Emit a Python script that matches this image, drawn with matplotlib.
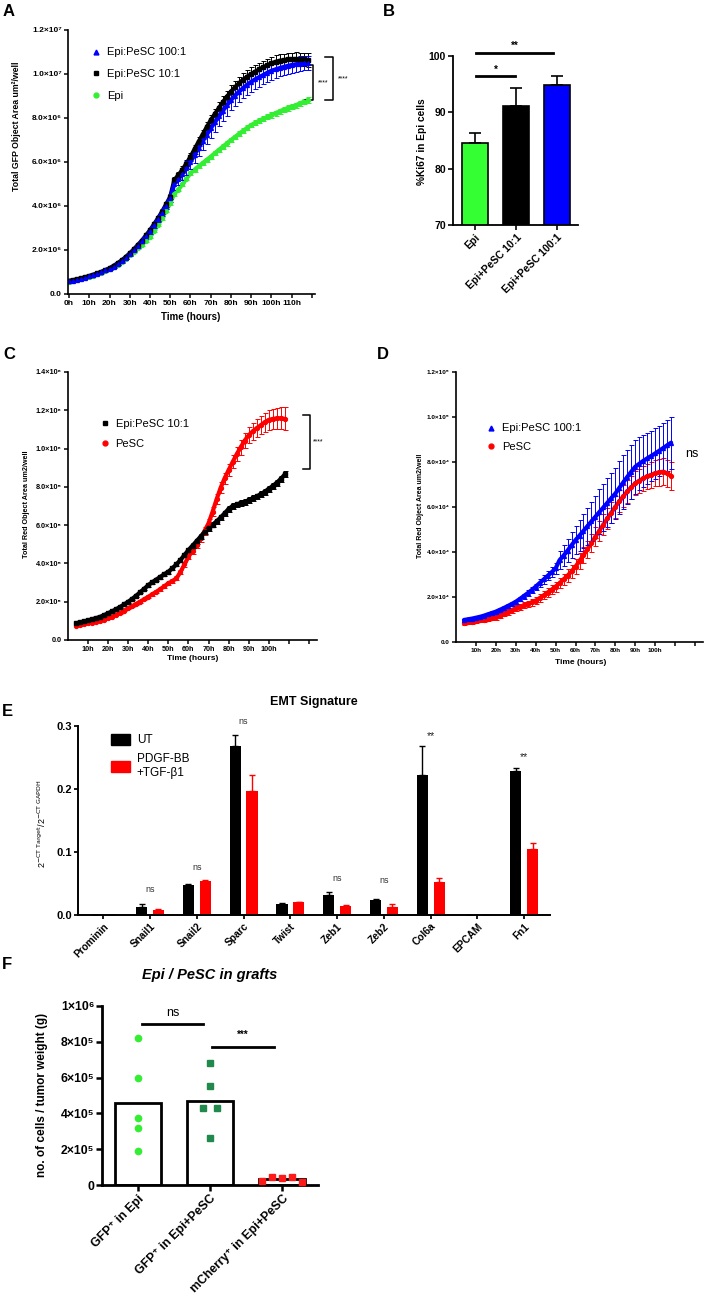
import numpy as np
import matplotlib
matplotlib.use('Agg')
import matplotlib.pyplot as plt
from matplotlib.lines import Line2D
from matplotlib.patches import Patch

plt.rcParams['font.family'] = ['Liberation Sans', 'DejaVu Sans']
plt.rcParams['mathtext.default'] = 'regular'

W, H = 709, 1308

# ---- A: GFP area (x1e6), every 2 h
hours_A = np.arange(0, 120, 2)
gfp_100 = [0.58, 0.61, 0.65, 0.69, 0.74, 0.80, 0.86, 0.92, 0.99, 1.07, 1.15,
           1.25, 1.37, 1.50, 1.65, 1.82, 2.00, 2.19, 2.40, 2.62, 2.86,
           3.12, 3.40, 3.70, 4.02, 4.36, 5.00, 5.22, 5.45, 5.72, 6.00,
           6.32, 6.63, 6.94, 7.24, 7.53, 7.80, 8.07, 8.33, 8.58, 8.82,
           9.02, 9.20, 9.36, 9.51, 9.65, 9.76, 9.86, 9.96, 10.06, 10.15,
           10.21, 10.27, 10.32, 10.37, 10.41, 10.44, 10.47, 10.49, 10.50]
gfp_100_err = [0.03, 0.03, 0.03, 0.03, 0.03, 0.04, 0.04, 0.04, 0.05, 0.05, 0.05,
               0.06, 0.06, 0.07, 0.07, 0.08, 0.08, 0.09, 0.10, 0.10, 0.11,
               0.12, 0.13, 0.14, 0.15, 0.16, 0.25, 0.27, 0.29, 0.31, 0.33,
               0.35, 0.37, 0.39, 0.41, 0.43, 0.44, 0.45, 0.46, 0.47, 0.47,
               0.47, 0.47, 0.46, 0.46, 0.45, 0.44, 0.43, 0.42, 0.41, 0.40,
               0.39, 0.38, 0.37, 0.36, 0.35, 0.34, 0.33, 0.32, 0.32]
gfp_10 = [0.60, 0.63, 0.67, 0.71, 0.76, 0.82, 0.88, 0.94, 1.01, 1.09, 1.17,
          1.28, 1.40, 1.53, 1.68, 1.85, 2.03, 2.23, 2.43, 2.66, 2.90,
          3.17, 3.45, 3.75, 4.08, 4.42, 5.18, 5.40, 5.65, 5.93, 6.24,
          6.58, 6.92, 7.25, 7.58, 7.90, 8.18, 8.45, 8.72, 8.97, 9.20,
          9.40, 9.58, 9.74, 9.88, 10.00, 10.11, 10.21, 10.31, 10.40, 10.49,
          10.55, 10.60, 10.63, 10.66, 10.67, 10.68, 10.67, 10.66, 10.64]
gfp_10_err = [0.03, 0.03, 0.03, 0.03, 0.03, 0.04, 0.04, 0.04, 0.04, 0.05, 0.05,
              0.05, 0.06, 0.06, 0.07, 0.07, 0.08, 0.08, 0.09, 0.09, 0.10,
              0.10, 0.11, 0.11, 0.12, 0.12, 0.15, 0.16, 0.17, 0.18, 0.19,
              0.20, 0.21, 0.22, 0.23, 0.24, 0.25, 0.26, 0.27, 0.28, 0.28,
              0.29, 0.29, 0.30, 0.30, 0.30, 0.30, 0.30, 0.30, 0.30, 0.30,
              0.30, 0.30, 0.30, 0.30, 0.30, 0.30, 0.30, 0.30, 0.30]
gfp_epi = [0.56, 0.59, 0.62, 0.66, 0.71, 0.78, 0.83, 0.89, 0.96, 1.04, 1.12,
           1.22, 1.33, 1.45, 1.61, 1.79, 1.93, 2.09, 2.25, 2.42, 2.60,
           2.86, 3.14, 3.45, 3.78, 4.12, 4.55, 4.75, 4.98, 5.24, 5.49,
           5.65, 5.80, 5.95, 6.10, 6.24, 6.40, 6.55, 6.70, 6.85, 7.00,
           7.14, 7.28, 7.42, 7.55, 7.68, 7.78, 7.88, 7.97, 8.05, 8.14,
           8.22, 8.30, 8.38, 8.45, 8.52, 8.58, 8.66, 8.74, 8.82]
gfp_epi_err = [0.02, 0.02, 0.02, 0.02, 0.02, 0.02, 0.03, 0.03, 0.03, 0.03, 0.03,
               0.04, 0.04, 0.04, 0.04, 0.05, 0.05, 0.05, 0.05, 0.06, 0.06,
               0.06, 0.06, 0.07, 0.07, 0.07, 0.08, 0.08, 0.08, 0.08, 0.09,
               0.09, 0.09, 0.09, 0.09, 0.10, 0.10, 0.10, 0.10, 0.10, 0.10,
               0.11, 0.11, 0.11, 0.11, 0.11, 0.11, 0.11, 0.11, 0.11, 0.12,
               0.12, 0.12, 0.12, 0.12, 0.12, 0.12, 0.12, 0.12, 0.12]

# ---- B: %Ki67
ki67_groups = ['Epi', 'Epi+PeSC 10:1', 'Epi+PeSC 100:1']
ki67_mean = [84.6, 91.2, 94.9]
ki67_err = [1.7, 3.2, 1.6]
ki67_colors = ['#33ff33', 'black', '#0000ff']

# ---- C and D: red area, every 2 h from 4 h to 108 h
hours_CD = np.arange(4, 110, 2)
red_10 = [0.87, 0.92, 0.97, 1.02, 1.08, 1.14, 1.21, 1.30, 1.40,
          1.50, 1.61, 1.73, 1.86, 2.00, 2.15, 2.32, 2.50, 2.68, 2.87,
          3.02, 3.16, 3.30, 3.44, 3.57, 3.75, 3.95, 4.18, 4.44, 4.70,
          4.93, 5.16, 5.40, 5.64, 5.85, 6.02, 6.20, 6.40, 6.62, 6.85,
          7.00, 7.08, 7.15, 7.22, 7.30, 7.40, 7.50, 7.62, 7.75, 7.90,
          8.05, 8.22, 8.42, 8.65]
red_10_err = [0.03, 0.03, 0.03, 0.03, 0.04, 0.04, 0.04, 0.04, 0.05,
              0.05, 0.05, 0.06, 0.06, 0.06, 0.07, 0.07, 0.07, 0.08, 0.08,
              0.08, 0.09, 0.09, 0.09, 0.10, 0.10, 0.10, 0.11, 0.11, 0.11,
              0.12, 0.12, 0.12, 0.12, 0.13, 0.13, 0.13, 0.13, 0.14, 0.14,
              0.14, 0.14, 0.14, 0.15, 0.15, 0.15, 0.15, 0.15, 0.15, 0.16,
              0.16, 0.16, 0.16, 0.16]
red_pesc_c = [0.75, 0.79, 0.83, 0.87, 0.91, 0.96, 1.01, 1.07, 1.13,
              1.22, 1.32, 1.42, 1.54, 1.66, 1.77, 1.89, 2.01, 2.13, 2.26,
              2.39, 2.52, 2.66, 2.81, 2.96, 3.08, 3.22, 3.55, 3.95, 4.35,
              4.65, 4.97, 5.32, 5.70, 6.10, 6.70, 7.35, 7.95, 8.45, 8.88,
              9.30, 9.70, 10.07, 10.42, 10.70, 10.90, 11.07, 11.22, 11.38, 11.50,
              11.55, 11.58, 11.58, 11.55]
red_pesc_c_err = [0.02, 0.02, 0.02, 0.02, 0.03, 0.03, 0.03, 0.03, 0.03,
                  0.04, 0.04, 0.04, 0.05, 0.05, 0.05, 0.06, 0.06, 0.06, 0.07,
                  0.07, 0.08, 0.08, 0.09, 0.09, 0.10, 0.11, 0.12, 0.13, 0.14,
                  0.15, 0.16, 0.18, 0.20, 0.22, 0.24, 0.26, 0.28, 0.30, 0.32,
                  0.34, 0.36, 0.38, 0.40, 0.42, 0.44, 0.46, 0.48, 0.50, 0.52,
                  0.54, 0.56, 0.58, 0.60]
red_100 = [0.98, 1.01, 1.04, 1.08, 1.12, 1.17, 1.23, 1.29, 1.35,
           1.43, 1.51, 1.60, 1.69, 1.79, 1.91, 2.04, 2.17, 2.31, 2.46,
           2.62, 2.78, 2.94, 3.10, 3.27, 3.64, 3.84, 4.06, 4.30, 4.53,
           4.73, 4.94, 5.15, 5.36, 5.57, 5.78, 5.98, 6.19, 6.40, 6.60,
           6.85, 7.10, 7.34, 7.57, 7.79, 7.92, 8.05, 8.16, 8.27, 8.38,
           8.50, 8.62, 8.74, 8.86]
red_100_err = [0.05, 0.05, 0.05, 0.05, 0.06, 0.06, 0.06, 0.07, 0.07,
               0.07, 0.08, 0.08, 0.09, 0.09, 0.10, 0.11, 0.12, 0.13, 0.14,
               0.16, 0.18, 0.20, 0.23, 0.26, 0.40, 0.46, 0.52, 0.58, 0.64,
               0.70, 0.76, 0.82, 0.88, 0.94, 1.00, 1.04, 1.08, 1.12, 1.15,
               1.18, 1.20, 1.20, 1.20, 1.20, 1.18, 1.16, 1.14, 1.12, 1.12,
               1.12, 1.13, 1.14, 1.15]
red_pesc_d = [0.86, 0.88, 0.90, 0.93, 0.96, 0.99, 1.02, 1.06, 1.10,
              1.17, 1.25, 1.33, 1.41, 1.50, 1.56, 1.63, 1.69, 1.76, 1.84,
              1.95, 2.07, 2.20, 2.33, 2.46, 2.62, 2.78, 2.95, 3.14, 3.35,
              3.60, 3.86, 4.13, 4.40, 4.68, 4.95, 5.22, 5.49, 5.75, 6.01,
              6.25, 6.48, 6.69, 6.88, 7.05, 7.17, 7.27, 7.36, 7.43, 7.50,
              7.54, 7.57, 7.50, 7.37]
red_pesc_d_err = [0.10, 0.10, 0.09, 0.09, 0.09, 0.09, 0.10, 0.10, 0.10,
                  0.11, 0.11, 0.12, 0.12, 0.13, 0.13, 0.14, 0.14, 0.15, 0.16,
                  0.17, 0.18, 0.19, 0.20, 0.22, 0.24, 0.26, 0.28, 0.30, 0.32,
                  0.34, 0.36, 0.38, 0.40, 0.42, 0.44, 0.45, 0.46, 0.47, 0.48,
                  0.49, 0.50, 0.51, 0.52, 0.53, 0.54, 0.55, 0.56, 0.57, 0.58,
                  0.59, 0.60, 0.61, 0.62]

# ---- E: EMT signature
genes = ['Prominin', 'Snail1', 'Snail2', 'Sparc', 'Twist', 'Zeb1', 'Zeb2',
         'Col6a', 'EPCAM', 'Fn1']
ut_mean = [0.0, 0.012, 0.047, 0.268, 0.017, 0.031, 0.024, 0.223, 0.0, 0.229]
ut_err = [0.0, 0.005, 0.003, 0.018, 0.002, 0.006, 0.002, 0.045, 0.0, 0.005]
tr_mean = [0.0, 0.008, 0.054, 0.197, 0.020, 0.015, 0.013, 0.052, 0.0, 0.104]
tr_err = [0.0, 0.001, 0.001, 0.025, 0.0, 0.001, 0.004, 0.007, 0.0, 0.010]
emt_sig = [('ns', 1, 0.040), ('ns', 2, 0.076), ('ns', 3, 0.307), ('ns', 5, 0.058),
           ('ns', 6, 0.055), ('**', 7, 0.284), ('**', 9, 0.251)]

# ---- F: cells per tumour weight (x1e5)
graft_groups = ['GFP⁺ in Epi', 'GFP⁺ in Epi+PeSC', 'mCherry⁺ in Epi+PeSC']
graft_vals = [[8.23, 5.96, 3.74, 3.18, 1.90],
              [6.82, 5.55, 4.32, 4.28, 2.63],
              [0.20, 0.46, 0.40, 0.43, 0.17]]
graft_jitter = [[0, 0, 0, 0, 0],
                [0, 0, -0.1, 0.1, 0],
                [-0.28, -0.14, 0, 0.14, 0.28]]
graft_styles = [('o', '#33ee33'), ('s', '#1f8a4c'), ('s', '#ff1a1a')]


fig = plt.figure(figsize=(W / 100, H / 100), dpi=100)


def box(x0, y0, x1, y1):
    return [x0 / W, 1 - y1 / H, (x1 - x0) / W, (y1 - y0) / H]


def ftxt(x, y, s, **kw):
    kw.setdefault('ha', 'center')
    kw.setdefault('va', 'center')
    fig.text(x / W, 1 - y / H, s, **kw)


def style(ax, lw=1.2, fs=6, length=3):
    for s in ['top', 'right']:
        ax.spines[s].set_visible(False)
    for s in ['left', 'bottom']:
        ax.spines[s].set_linewidth(lw)
    ax.tick_params(width=lw * 0.9, length=length, labelsize=fs, pad=1.5)
    for t in ax.get_xticklabels() + ax.get_yticklabels():
        t.set_fontweight('bold')


def eb(ax, x, y, e, marker, color, ms=2.8):
    # dense time course: thick trace + markers + capped error bars
    ax.plot(x, y, '-', color=color, lw=3, solid_capstyle='round')
    ax.errorbar(x, y, yerr=e, fmt=marker, ms=ms, color=color, mec=color,
                ecolor=color, elinewidth=0.7, capsize=1.8, capthick=0.7)


# ---------- A
axA = fig.add_axes(box(68, 30, 315, 294))
eb(axA, hours_A, gfp_epi, gfp_epi_err, 'o', '#33ee33')
eb(axA, hours_A, gfp_10, gfp_10_err, 's', 'black')
eb(axA, hours_A, gfp_100, gfp_100_err, '^', '#0000ff')
axA.set_xlim(-0.5, 121.5)
axA.set_ylim(0, 12)
axA.set_xticks(range(0, 121, 10))
axA.set_xticklabels([f'{h}h' for h in range(0, 111, 10)] + [''])
axA.set_yticks(range(0, 13, 2))
axA.set_yticklabels(['0.0', '2.0×10⁶', '4.0×10⁶', '6.0×10⁶', '8.0×10⁶',
                     '1.0×10⁷', '1.2×10⁷'])
style(axA)
axA.legend(handles=[Line2D([], [], ls='', marker='^', color='#0000ff', ms=3.5),
                    Line2D([], [], ls='', marker='s', color='black', ms=3.5),
                    Line2D([], [], ls='', marker='o', color='#33ee33', ms=3.5)],
           labels=['Epi:PeSC 100:1', 'Epi:PeSC 10:1', 'Epi'],
           loc='upper left', bbox_to_anchor=(0.067, 0.955), frameon=False,
           borderpad=0, handlelength=1, handletextpad=0.5, labelspacing=1.05,
           fontsize=8)
for x0, x1, ytop, xt in [(116.7, 120.6, 10.4, 125.5), (126.5, 130.5, 10.77, 135.5)]:
    axA.plot([x0, x1, x1, x0], [ytop, ytop, 8.8, 8.8], color='black', lw=1.1,
             clip_on=False)
    axA.text(xt, (ytop + 8.8) / 2, '****', fontsize=5, ha='center', va='center')
ftxt(17, 126, 'Total GFP Object Area um²/well', rotation=90, fontsize=6.3,
     fontweight='bold')
ftxt(191, 317, 'Time (hours)', fontsize=7, fontweight='bold')

# ---------- B
axB = fig.add_axes(box(453, 56, 578, 225))
xb = np.arange(len(ki67_groups))
axB.bar(xb, ki67_mean, width=0.63, color=ki67_colors, edgecolor='black',
        linewidth=1.2, yerr=[np.zeros(3), ki67_err], capsize=4,
        error_kw=dict(elinewidth=1.2, capthick=1.2))
axB.set_xlim(-0.54, 2.51)
axB.set_ylim(70, 100)
axB.set_yticks([70, 80, 90, 100])
axB.set_xticks(xb)
axB.set_xticklabels(ki67_groups, rotation=45, ha='right', rotation_mode='anchor')
style(axB, lw=1.3, fs=7.5, length=3.5)
axB.plot([0.03, 0.97], [96.5, 96.5], color='black', lw=2, clip_on=False)
axB.text(0.5, 97.6, '*', ha='center', va='center', fontsize=7, fontweight='bold')
axB.plot([0.03, 1.9], [100.6, 100.6], color='black', lw=2, clip_on=False)
axB.text(0.96, 101.8, '**', ha='center', va='center', fontsize=7, fontweight='bold')
ftxt(422, 142, '%Ki67 in Epi cells', rotation=90, fontsize=7.3, fontweight='bold')

# ---------- C
axC = fig.add_axes(box(68, 372, 317, 640))
eb(axC, hours_CD, red_pesc_c, red_pesc_c_err, 'o', '#ff0000')
eb(axC, hours_CD, red_10, red_10_err, 's', 'black')
axC.set_xlim(0, 124)
axC.set_ylim(0, 14)
axC.set_xticks(range(10, 121, 10))
axC.set_xticklabels([f'{h}h' for h in range(10, 101, 10)] + ['', ''])
axC.set_yticks(range(0, 15, 2))
axC.set_yticklabels(['0.0', '2.0×10⁵', '4.0×10⁵', '6.0×10⁵', '8.0×10⁵',
                     '1.0×10⁶', '1.2×10⁶', '1.4×10⁶'])
style(axC, fs=5.2)
axC.legend(handles=[Line2D([], [], ls='', marker='s', color='black', ms=3.5),
                    Line2D([], [], ls='', marker='o', color='#ff0000', ms=3.5)],
           labels=['Epi:PeSC 10:1', 'PeSC'],
           loc='upper left', bbox_to_anchor=(0.102, 0.847), frameon=False,
           borderpad=0, handlelength=1, handletextpad=0.5, labelspacing=0.9,
           fontsize=8)
axC.plot([117, 120.5, 120.5, 117], [11.75, 11.75, 8.93, 8.93], color='black',
         lw=1.1, clip_on=False)
axC.text(124.8, 10.34, '****', fontsize=5, ha='center', va='center')
ftxt(27, 504, 'Total Red Object Area um2/well', rotation=90, fontsize=5.2,
     fontweight='bold')
ftxt(193, 659, 'Time (hours)', fontsize=6, fontweight='bold')

# ---------- D
axD = fig.add_axes(box(456, 372, 703, 642))
eb(axD, hours_CD, red_pesc_d, red_pesc_d_err, 'o', '#ff0000')
eb(axD, hours_CD, red_100, red_100_err, '^', '#0000ff')
axD.set_xlim(0, 124)
axD.set_ylim(0, 12)
axD.set_xticks(range(10, 121, 10))
axD.set_xticklabels([f'{h}h' for h in range(10, 101, 10)] + ['', ''])
axD.set_yticks(range(0, 13, 2))
axD.set_yticklabels(['0.0', '2.0×10⁴', '4.0×10⁴', '6.0×10⁴', '8.0×10⁴',
                     '1.0×10⁵', '1.2×10⁵'])
style(axD, fs=4.6)
axD.legend(handles=[Line2D([], [], ls='', marker='^', color='#0000ff', ms=3.5),
                    Line2D([], [], ls='', marker='o', color='#ff0000', ms=3.5)],
           labels=['Epi:PeSC 100:1', 'PeSC'],
           loc='upper left', bbox_to_anchor=(0.095, 0.83), frameon=False,
           borderpad=0, handlelength=1, handletextpad=0.5, labelspacing=0.75,
           fontsize=8)
axD.text(118.5, 8.36, 'ns', fontsize=9, ha='center', va='center', clip_on=False)
ftxt(420, 506, 'Total Red Object Area um2/well', rotation=90, fontsize=5,
     fontweight='bold')
ftxt(581, 662, 'Time (hours)', fontsize=6, fontweight='bold')

# ---------- E
axE = fig.add_axes(box(78, 726, 550, 915))
xe = np.arange(len(genes))
axE.bar(xe - 0.18, ut_mean, width=0.24, color='black',
        yerr=[np.zeros(len(genes)), ut_err], capsize=2,
        error_kw=dict(ecolor='black', elinewidth=1, capthick=1))
axE.bar(xe + 0.18, tr_mean, width=0.24, color='#ff0000',
        yerr=[np.zeros(len(genes)), tr_err], capsize=2,
        error_kw=dict(ecolor='#ff0000', elinewidth=1, capthick=1))
axE.set_xlim(-0.54, 9.55)
axE.set_ylim(0, 0.3)
axE.set_yticks([0, 0.1, 0.2, 0.3])
axE.set_yticklabels(['0.0', '0.1', '0.2', '0.3'])
axE.set_xticks(xe)
axE.set_xticklabels(genes, rotation=45, ha='right', rotation_mode='anchor')
style(axE, lw=1.4, fs=8, length=3)
for t in axE.get_xticklabels():
    t.set_fontsize(7.3)
for s, i, y in emt_sig:
    if s == 'ns':
        axE.text(i, y, s, ha='center', va='center', fontsize=6.5, color='#333333')
    else:
        axE.text(i, y, s, ha='center', va='center', fontsize=7.5, color='#222222')
axE.legend(handles=[Patch(color='black'), Patch(color='#ff0000')],
           labels=['UT', 'PDGF-BB\n+TGF-β1'], loc='upper left',
           bbox_to_anchor=(0.057, 0.99), frameon=False, borderpad=0,
           handlelength=1.6, handleheight=1.1, handletextpad=0.6,
           labelspacing=0.55, fontsize=8.5)
ftxt(314, 702, 'EMT Signature', fontsize=9, fontweight='bold')
ftxt(42, 824, r'$2^{\mathrm{-CT\ Target}}/2^{\mathrm{-CT\ GAPDH}}$', rotation=90,
     fontsize=6.5)

# ---------- F
axF = fig.add_axes(box(102, 1006, 318, 1185))
xf = np.arange(len(graft_groups))
axF.bar(xf, [np.mean(v) for v in graft_vals], width=0.65, color='white',
        edgecolor='black', linewidth=2, zorder=1)
for i, (vals, jit, (mk, col)) in enumerate(zip(graft_vals, graft_jitter, graft_styles)):
    axF.plot(np.array(jit) + i, vals, ls='', marker=mk, color=col, ms=4.5,
             zorder=3, clip_on=False)
axF.set_xlim(-0.5, 2.5)
axF.set_ylim(0, 10)
axF.set_yticks([0, 2, 4, 6, 8, 10])
axF.set_yticklabels(['0', '2×10⁵', '4×10⁵', '6×10⁵', '8×10⁵', '1×10⁶'])
axF.set_xticks(xf)
axF.set_xticklabels(graft_groups, rotation=45, ha='right', rotation_mode='anchor')
style(axF, lw=2, fs=8.8, length=4)
axF.plot([0.056, 0.9], [9.0, 9.0], color='black', lw=2)
axF.text(0.48, 9.6, 'ns', ha='center', va='center', fontsize=9)
axF.plot([1.03, 1.89], [7.71, 7.71], color='black', lw=2)
axF.text(1.46, 8.4, '***', ha='center', va='center', fontsize=7, fontweight='bold')
ftxt(210, 975, 'Epi / PeSC in grafts', fontsize=10.5, fontweight='bold',
     fontstyle='italic')
ftxt(42, 1095, 'no. of cells / tumor weight (g)', rotation=90, fontsize=8.5,
     fontweight='bold')

# panel letters
for s, x, y in [('A', 3, 4), ('B', 383, 4), ('C', 3, 347), ('D', 377, 347),
                ('E', 2, 704), ('F', 2, 957)]:
    ftxt(x, y, s, ha='left', va='top', fontsize=12, fontweight='bold')

fig.savefig('out.png', dpi=100)
